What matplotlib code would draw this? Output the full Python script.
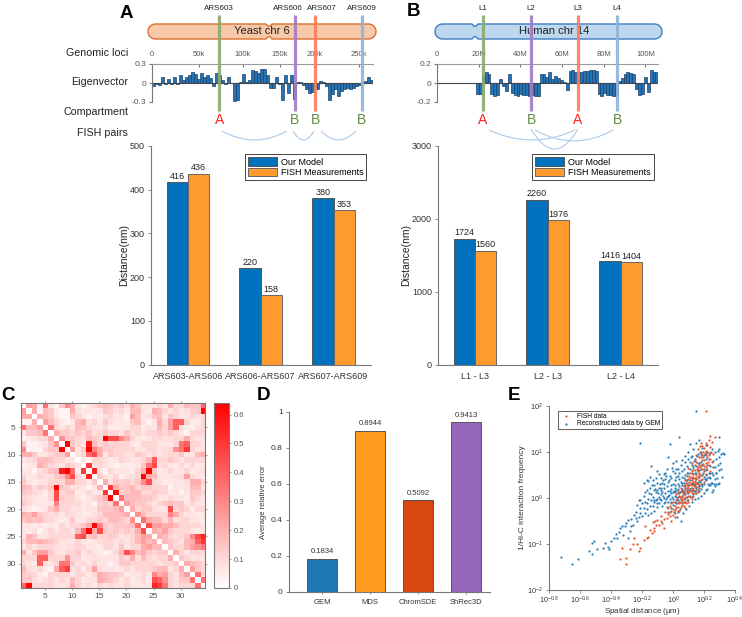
import numpy as np
import matplotlib
matplotlib.use("Agg")
import matplotlib.pyplot as plt
from matplotlib.path import Path
from matplotlib.patches import PathPatch
from matplotlib.colors import LinearSegmentedColormap

plt.rcParams['font.family'] = ['Liberation Sans', 'DejaVu Sans']
plt.rcParams['mathtext.default'] = 'regular'

W, H = 742, 617
GRAY = '#555555'
AXC = '#777777'
BLUE = '#0072bd'
ORANGE = '#ff9a2e'

# eigenvector tracks
yeast_eig = [-.05, -.01, -.03, .10, -.01, .07, -.02, .10, -.01, .12, .04, .09, .12, .17, .15, .06, .16, .10, .12, .08,
             -.04, .16, .13, .05, -.02, .09, 0, -.28, -.27, .01, .14, .01, .05, .20, .19, .16, .22, .22, .12, -.08,
             -.08, .10, -.02, -.27, .13, -.15, .12, -.25, .01, .01, -.03, -.10, -.15, -.14, -.10, -.10, .03, .01,
             -.05, -.27, -.17, -.10, -.20, -.12, -.10, -.08, -.10, -.08, -.05, -.03, .01, .03, .10, .05]
human_eig = [-.12, -.12, .07, .12, .09, -.12, -.14, -.13, .04, -.03, -.08, .09, -.10, -.13, -.14, -.12, -.13, -.13,
             -.14, -.13, -.14, -.14, .10, .09, .06, .12, .04, .07, .05, .03, .01, -.07, .13, .14, .12, .12, .12, .13,
             .13, .14, .14, .13, -.12, -.14, -.11, -.13, -.13, -.14, -.14, .02, .05, .10, .12, .11, .09, -.06, -.13,
             -.12, .06, -.09, .14, .12, .12]
yeast_ticks = [0, 56.6, 109.6, 154, 196, 249]
yeast_ticklabels = ['0', '50k', '100k', '150k', '200k', '250k']
human_ticks = [0, 20, 40, 60, 80, 100]
human_ticklabels = ['0', '20M', '40M', '60M', '80M', '100M']

# distance bars
yeast_pairs = ['ARS603-ARS606', 'ARS606-ARS607', 'ARS607-ARS609']
yeast_model = [416, 220, 380]
yeast_fish = [436, 158, 353]
human_pairs = ['L1 - L3', 'L2 - L3', 'L2 - L4']
human_model = [1724, 2260, 1416]
human_fish = [1560, 1976, 1404]

# panel D
methods = ['GEM', 'MDS', 'ChromSDE', 'ShRec3D']
errors = [0.1834, 0.8944, 0.5092, 0.9413]
method_colors = ['#1f77b4', '#ff9a1f', '#d8470e', '#9467bd']

# panel C, upper triangle read row by row
heat_upper = [
    [35, 30, 5, 40, 10, 5, 20, 42, 30, 10, 5, 10, 15, 20, 25, 20, 15, 20, 12, 30, 20, 10, 10, 10, 15, 10, 30, 15, 15, 25, 20, 20, 38],
    [30, 5, 25, 20, 8, 5, 5, 30, 12, 8, 10, 8, 10, 22, 18, 12, 15, 8, 25, 25, 10, 8, 30, 25, 15, 10, 15, 10, 12, 18, 20, 63],
    [30, 25, 20, 10, 5, 5, 20, 15, 10, 5, 10, 8, 12, 15, 10, 10, 5, 35, 22, 8, 12, 22, 25, 10, 22, 15, 8, 10, 15, 12, 15],
    [35, 25, 15, 8, 5, 10, 25, 30, 12, 15, 10, 20, 12, 8, 10, 8, 20, 25, 10, 5, 10, 30, 15, 35, 40, 40, 15, 8, 8, 15, 10],
    [40, 15, 10, 15, 10, 25, 22, 15, 12, 10, 15, 8, 8, 8, 10, 15, 15, 8, 10, 10, 25, 15, 35, 40, 12, 8, 5, 12, 15, 10],
    [30, 20, 20, 15, 22, 15, 22, 12, 15, 20, 15, 15, 10, 20, 12, 15, 10, 15, 15, 20, 15, 20, 15, 10, 5, 15, 15, 15, 12],
    [40, 20, 20, 15, 12, 25, 20, 15, 40, 20, 45, 45, 30, 15, 10, 8, 10, 15, 15, 12, 12, 15, 15, 30, 15, 10, 10, 8],
    [63, 20, 15, 10, 25, 25, 15, 20, 15, 18, 15, 15, 10, 8, 15, 15, 15, 10, 10, 10, 15, 35, 40, 15, 15, 10, 8],
    [35, 10, 20, 30, 45, 30, 18, 20, 15, 15, 15, 15, 10, 10, 15, 15, 10, 12, 15, 40, 50, 15, 15, 10, 12],
    [10, 15, 10, 45, 30, 10, 20, 15, 15, 10, 12, 20, 15, 10, 15, 10, 12, 15, 15, 20, 10, 10, 25, 30],
    [10, 5, 15, 15, 12, 8, 10, 15, 12, 10, 10, 15, 25, 40, 15, 15, 20, 15, 10, 15, 15, 15, 15],
    [50, 10, 15, 10, 8, 5, 8, 8, 8, 10, 20, 25, 45, 10, 15, 10, 8, 15, 8, 15, 8, 10],
    [55, 10, 5, 15, 10, 10, 10, 8, 15, 30, 35, 20, 8, 10, 15, 10, 10, 15, 8, 10, 12],
    [20, 10, 10, 15, 5, 10, 12, 15, 30, 30, 25, 10, 10, 10, 12, 15, 35, 15, 10, 8],
    [30, 10, 20, 18, 20, 15, 20, 30, 22, 15, 12, 8, 8, 10, 10, 12, 30, 30, 15],
    [50, 20, 20, 22, 25, 15, 20, 20, 15, 15, 15, 5, 10, 10, 10, 25, 25, 10],
    [62, 15, 20, 25, 25, 15, 15, 20, 15, 15, 8, 10, 5, 10, 20, 20, 15],
    [40, 25, 25, 25, 20, 20, 15, 10, 10, 15, 10, 10, 8, 20, 15, 10],
    [35, 25, 20, 20, 15, 10, 15, 20, 25, 20, 20, 10, 15, 10, 10],
    [30, 15, 20, 20, 12, 10, 10, 30, 15, 20, 15, 8, 15, 15],
    [40, 25, 15, 15, 15, 15, 45, 30, 15, 10, 10, 8, 10],
    [40, 30, 25, 25, 15, 25, 12, 15, 15, 10, 10, 8],
    [50, 35, 35, 30, 30, 25, 15, 15, 15, 15, 10],
    [30, 25, 35, 20, 15, 15, 15, 10, 8, 10],
    [30, 25, 15, 12, 15, 20, 15, 15, 48],
    [25, 20, 15, 10, 25, 30, 45, 55],
    [20, 15, 15, 25, 35, 40, 50],
    [30, 15, 10, 15, 15, 15],
    [20, 15, 10, 12, 10],
    [30, 25, 20, 15],
    [35, 20, 15],
    [40, 15],
    [40],
]
hot_row = [1, 11, 12, 12, 13, 15, 16, 16, 7, 7, 7, 8, 8, 9, 10, 13, 13, 13, 20, 2, 23, 24, 24, 25, 25, 25, 26, 26,
           8, 12, 13, 16, 17, 2, 18, 1, 5, 22, 23, 32, 33, 4, 4, 5, 8]
hot_col = [34, 25, 25, 24, 24, 23, 7, 18, 18, 17, 16, 30, 31, 31, 14, 9, 8, 10, 28, 19, 14, 13, 15, 33, 34, 32, 33, 34,
           9, 13, 14, 17, 18, 34, 19, 5, 6, 23, 24, 33, 34, 29, 30, 29, 31]
hot_val = [.38, .40, .45, .35, .30, .30, .45, .20, .45, .45, .20, .35, .40, .50, .45, .45, .40, .30, .45, .10, .42, .35, .30, .45, .55, .30, .40, .50,
           .63, .50, .55, .50, .62, .63, .35, .35, .35, .35, .45, .35, .35, .40, .40, .40, .40]

# panel E, log10 of (distance, 1/frequency)
fish_pts = [(-.34, -1.33), (-.30, -1.30), (-.30, -1.43), (-.33, -1.09), (-.275, -1.12), (-.25, -.87), (-.26, -1.0), (-.23, -1.01),
            (-.22, -1.16), (-.21, -1.09), (-.19, -.91), (-.17, -.87), (-.18, -.62), (-.15, -.69), (-.135, -.76), (-.125, -.65),
            (-.115, -.51), (-.09, -.58), (-.07, -.54), (-.06, -.65), (-.04, -.43), (-.02, -.40), (-.01, -.51), (.215, 1.88),
            (.236, 1.34), (.27, 1.32), (-.13, -.52), (-.10, -.47), (-.08, -.40), (-.05, -.30), (-.03, -.22), (-.06, -.45),
            (-.02, -.18), (-.01, -.28), (0, -.10), (.01, -.33), (.01, -.18), (.02, -.05), (.02, -.22), (.03, .02), (.03, -.28),
            (.04, -.12), (.04, .10), (.05, -.02), (.05, -.20), (.06, .15), (.06, .02), (.06, -.15), (.07, .25), (.07, .08),
            (.07, -.08), (.08, .18), (.08, .02), (.08, -.22), (.09, .32), (.09, .12), (.09, -.05), (.10, .40), (.10, .22),
            (.10, .05), (.10, -.10), (.11, .30), (.11, .15), (.11, .02), (.12, .45), (.12, .28), (.12, .10), (.12, -.02),
            (.13, .52), (.13, .35), (.13, .18), (.13, .05), (.14, .60), (.14, .42), (.14, .25), (.14, .10), (.15, .78),
            (.15, .50), (.15, .32), (.15, .18), (.16, .68), (.16, .45), (.16, .30), (.16, .12), (.17, .88), (.17, .55),
            (.17, .38), (.17, .22), (.18, 1.0), (.18, .72), (.18, .50), (.18, .30), (.19, .92), (.19, .62), (.19, .40),
            (.20, 1.08), (.20, .82), (.20, .58), (.20, .35), (.21, 1.02), (.21, .75), (.21, .52), (.22, 1.15), (.22, .88),
            (.22, .62), (.23, .98), (.23, .72), (.24, 1.1), (.24, .85), (.24, .58), (.25, 1.22), (.25, .78), (.26, .95),
            (.01, -.42), (0, -.25), (-.01, -.12), (-.02, -.30), (.02, .08), (.03, .15), (.04, -.28), (.05, .22), (.06, -.05),
            (.07, -.18), (.08, .28), (.09, .22), (.10, .12), (.11, .42), (.12, .18), (.13, .42), (.14, .32), (.15, .42),
            (.16, .58), (.17, .72), (.18, .88), (.19, 1.12), (.21, .92), (.12, .75), (.14, .82), (.10, .65), (.16, 1.05),
            (.18, 1.18), (.20, .70), (.23, 1.25), (.13, .62), (.15, .92), (.11, .55), (.09, .48), (.08, .38), (.17, .48),
            (-.16, -.85), (-.12, -.72), (-.11, -.60), (-.08, -.50), (-.03, -.35), (0, -.38), (.015, -.26), (.025, -.12),
            (.035, -.20), (.045, .02), (.055, -.10), (.065, .18), (.075, .0), (.085, -.12), (.095, .26), (.105, .34),
            (.115, .22), (.125, .38), (.135, .28), (.145, .36), (.155, .24), (.165, .52), (.175, .66), (.185, .82),
            (.195, 1.0), (.205, .98), (.215, .68), (.225, .78), (.235, .92), (.245, 1.0), (.155, .62), (.145, .72),
            (.125, .58), (.105, .48), (.085, .32), (.065, .08), (.045, -.08), (.175, 1.12), (.195, .74), (.21, 1.2)]
gem_pts = [(-.72, -1.29), (-.65, -1.43), (-.61, -1.33), (-.54, -1.16), (-.52, -1.21), (-.51, -.94), (-.52, -.98), (-.49, -1.11),
           (-.45, -1.08), (-.42, -1.07), (-.41, -1.12), (-.40, -.94), (-.38, -.87), (-.36, -.87), (-.34, -.65), (-.33, -.62),
           (-.29, -.49), (-.29, -.87), (-.26, -.58), (-.25, -.38), (-.23, -.51), (-.22, -.42), (-.21, 1.19), (-.21, -.33),
           (-.19, -.23), (-.18, -.33), (-.17, .16), (-.17, .39), (-.16, .36), (-.14, .69), (-.13, .39), (-.10, .59), (-.09, .52),
           (-.06, .52), (-.03, .88), (-.02, 1.17), (.04, 1.32), (.11, 1.17), (.15, 1.88), (.30, 1.33), (.32, .98),
           (-.35, -.75), (-.31, -.62), (-.28, -.72), (-.27, -.45), (-.24, -.30), (-.20, -.12), (-.20, -.40), (-.19, .05),
           (-.18, -.08), (-.17, -.25), (-.16, -.02), (-.16, -.38), (-.15, .22), (-.15, -.18), (-.14, .08), (-.14, -.32),
           (-.13, .02), (-.13, -.18), (-.12, .28), (-.12, -.10), (-.12, -.28), (-.11, .12), (-.11, -.05), (-.10, .32),
           (-.10, -.02), (-.10, -.20), (-.09, .22), (-.09, .02), (-.09, -.12), (-.08, .42), (-.08, .08), (-.08, -.05),
           (-.07, .32), (-.07, .12), (-.07, -.18), (-.06, .22), (-.06, 0), (-.06, -.12), (-.05, .40), (-.05, .10), (-.05, -.08),
           (-.04, .62), (-.04, .25), (-.04, .02), (-.04, -.20), (-.03, .35), (-.03, .05), (-.03, -.10), (-.02, .48), (-.02, .15),
           (-.02, -.02), (-.01, .28), (-.01, .10), (-.01, -.08), (0, .58), (0, .30), (0, .12), (0, -.02), (0, -.15), (.01, .38),
           (.01, .22), (.01, .05), (.01, -.10), (.02, .80), (.02, .45), (.02, .18), (.02, .02), (.02, -.12), (.03, .30), (.03, .10),
           (.03, -.05), (.03, -.30), (.04, .55), (.04, .25), (.04, .05), (.04, -.08), (.05, .72), (.05, .35), (.05, .15), (.05, -.02),
           (.05, -.50), (.06, .45), (.06, .20), (.06, .05), (.06, -.12), (.07, .62), (.07, .32), (.07, .12), (.07, -.02), (.08, .90),
           (.08, .50), (.08, .25), (.08, .08), (.08, -.10), (.09, .70), (.09, .38), (.09, .18), (.09, .02), (.10, 1.0), (.10, .55),
           (.10, .28), (.10, .10), (.10, -.05), (.11, .78), (.11, .38), (.11, .20), (.11, .05), (.12, .90), (.12, .55), (.12, .32),
           (.12, .15), (.12, .02), (.13, 1.05), (.13, .68), (.13, .42), (.13, .22), (.13, .08), (.14, .85), (.14, .55), (.14, .30),
           (.14, .15), (.14, -.02), (.15, 1.18), (.15, .70), (.15, .40), (.15, .22), (.15, .10), (.16, .95), (.16, .60), (.16, .35),
           (.16, .18), (.17, 1.25), (.17, .75), (.17, .45), (.17, .28), (.17, .15), (.18, .95), (.18, .62), (.18, .38), (.18, .20),
           (.19, 1.08), (.19, .72), (.19, .50), (.19, .25), (.20, .92), (.20, .62), (.20, .30), (.21, 1.15), (.21, .60), (.21, .38),
           (.21, .18), (.22, 1.00), (.22, .72), (.22, .42), (.23, .85), (.23, .55), (.23, .28), (.24, .98), (.24, .70), (.24, .42),
           (.25, 1.05), (.25, .55), (.25, .32), (.26, .80), (.26, .50), (.26, .18), (.27, 1.0), (.27, .68), (.27, .40), (.28, .85),
           (.28, .55), (.28, .30), (.29, 1.02), (.29, .72), (.30, .88), (.30, .32), (.31, .95), (.31, .62), (.33, .95), (.30, 1.05),
           (-.23, -.15), (-.22, -.05), (-.21, -.22), (-.19, .32), (-.15, .45), (-.11, .42), (-.08, .18), (-.05, .55), (0, .75),
           (.03, .62), (.06, .82), (.09, .55), (.12, .72), (.15, .55), (.18, .78), (.21, .85), (.24, .55), (.02, .62), (.07, .42),
           (.11, .62), (.16, .75), (.20, .45), (.04, .40), (-.01, .42), (.13, .30), (.17, .60), (.09, .12), (.06, .32), (.01, .12),
           (-.44, -.98), (-.37, -.78), (-.32, -.80), (-.30, -.55), (-.27, -.62), (-.24, -.44), (-.21, -.05), (-.18, .12),
           (-.165, -.12), (-.155, .10), (-.145, -.05), (-.135, .28), (-.125, -.05), (-.115, .20), (-.105, -.12), (-.095, .10),
           (-.085, -.02), (-.075, .22), (-.065, .05), (-.055, .30), (-.045, -.02), (-.035, .15), (-.025, .06), (-.015, .20),
           (-.005, .02), (.005, .15), (.015, .28), (.025, -.02), (.035, .20), (.045, .12), (.055, .28), (.065, .12), (.075, .22),
           (.085, .38), (.095, .28), (.105, .18), (.115, .30), (.125, .45), (.135, .15), (.145, .25), (.155, .32), (.165, .25),
           (.175, .35), (.185, .30), (.195, .55), (.205, .40), (.215, .50), (.225, .30), (.235, .45), (.245, .32), (.255, .68),
           (.265, .30), (.275, .55), (.285, .42), (.295, .60), (.305, .75), (.315, .45), (.135, .80), (.155, .90), (.175, 1.0),
           (.195, .88), (.215, .95), (.115, .88), (.095, .85), (.075, .78), (.055, .58), (.035, .48), (.015, .55), (-.005, .65),
           (-.025, .38), (-.045, .48), (-.065, .38), (-.085, .30), (-.105, .18), (-.125, .16), (.125, -.08), (.105, -.18),
           (.085, -.25), (.065, -.32), (.045, -.25), (.025, -.42), (.005, -.30), (-.015, -.22), (-.035, -.30), (.20, .10),
           (.18, .05), (.16, 0), (.24, .28), (.27, .25), (.29, .30), (.22, .20), (.25, .12)]


def px_axes(x0, y0, x1, y1):
    return fig.add_axes([x0 / W, 1 - y1 / H, (x1 - x0) / W, (y1 - y0) / H])


def style(ax, size=6.5):
    for s in ['top', 'right']:
        ax.spines[s].set_visible(False)
    for s in ['left', 'bottom']:
        ax.spines[s].set_color(AXC)
        ax.spines[s].set_linewidth(0.8)
    ax.tick_params(colors=AXC, labelcolor='#333333', labelsize=size, width=0.6, length=2.5, pad=2)


def eig_track(x0, x1, xlim, start, binw, values, ylim, yt, ytl, ticks, labels):
    ax = px_axes(x0, 64, x1, 102)
    pos = start + binw * (np.arange(len(values)) + 0.5)
    ax.bar(pos, values, width=binw, color='#2474b5', edgecolor='#1d3f68', linewidth=0.5)
    ax.axhline(0, color='#444444', lw=0.8)
    ax.set_xlim(0, xlim)
    ax.set_ylim(-ylim, ylim)
    for s in ['right', 'bottom']:
        ax.spines[s].set_visible(False)
    ax.spines['top'].set_color('#999999')
    ax.spines['left'].set_color(AXC)
    ax.xaxis.tick_top()
    ax.set_xticks(ticks)
    ax.set_xticklabels(labels)
    ax.set_yticks(yt)
    ax.set_yticklabels(ytl)
    ax.tick_params(axis='x', direction='in', length=2, labelsize=5.5, labelcolor=GRAY, color=AXC, pad=4)
    ax.tick_params(axis='y', direction='out', length=2, labelsize=6, labelcolor=GRAY, color=AXC, pad=2)
    ax.patch.set_alpha(0)
    return ax


def dist_bars(x0, x1, pairs, model, fish, ymax, yt, legend_box):
    ax = px_axes(x0, 145.7, x1, 364.7)
    x = np.arange(1, 4)
    b1 = ax.bar(x - 0.145, model, 0.29, color=BLUE, edgecolor='#555555', linewidth=0.7, label='Our Model')
    b2 = ax.bar(x + 0.145, fish, 0.29, color=ORANGE, edgecolor='#666666', linewidth=0.7, label='FISH Measurements')
    for bars in (b1, b2):
        for r in bars:
            ax.text(r.get_x() + r.get_width() / 2, r.get_height() + ymax * 0.007, str(int(r.get_height())),
                    ha='center', va='bottom', fontsize=6.5, color='#222222')
    ax.set_xlim(0.5, 3.51)
    ax.set_ylim(0, ymax)
    ax.set_xticks(x)
    ax.set_xticklabels(pairs)
    ax.set_yticks(yt)
    style(ax)
    ax.tick_params(axis='x', length=0, pad=5)
    ax.set_ylabel('Distance(nm)', fontsize=7.5, color='#222222', labelpad=1)
    lx, ly = legend_box
    leg = ax.legend(loc='upper left', bbox_to_anchor=(lx / W, 1 - ly / H), bbox_transform=fig.transFigure,
                    fontsize=6.5, fancybox=False, framealpha=1, edgecolor='#444444', borderaxespad=0,
                    handlelength=3.2, handleheight=1.0, handletextpad=0.4, labelspacing=0.15, borderpad=0.35)
    leg.get_frame().set_linewidth(0.7)
    return ax


fig = plt.figure(figsize=(W / 100, H / 100), dpi=100)

# eigenvector tracks and distance bars
eig_track(152, 373, 266, 0, 3.6, yeast_eig, 0.3, [-.3, 0, .3], ['-0.3', '0', '0.3'], yeast_ticks, yeast_ticklabels)
eig_track(437, 658, 106, 18.7, 1.388, human_eig, 0.2, [-.2, 0, .2], ['-0.2', '0', '0.2'], human_ticks, human_ticklabels)
dist_bars(151.3, 370.7, yeast_pairs, yeast_model, yeast_fish, 500, [0, 100, 200, 300, 400, 500], (245, 154.3))
dist_bars(438.3, 657.7, human_pairs, human_model, human_fish, 3000, [0, 1000, 2000, 3000], (532.3, 154.3))

# panel C
heat = np.zeros((34, 34))
for i, row in enumerate(heat_upper):
    vals = np.array(row[:33 - i]) / 145
    heat[i, i + 1:i + 1 + len(vals)] = vals
for r, c, v in zip(hot_row, hot_col, hot_val):
    heat[r - 1, c - 1] = v
heat = heat + heat.T
axc = px_axes(20.7, 403, 205, 588)
cmap = LinearSegmentedColormap.from_list('wr', ['#ffffff', '#ff0000'])
im = axc.imshow(heat, cmap=cmap, vmin=0, vmax=0.64, extent=(0.5, 34.5, 34.5, 0.5), aspect='auto', interpolation='nearest')
axc.set_xticks(range(5, 31, 5))
axc.set_yticks(range(5, 31, 5))
axc.tick_params(colors=AXC, labelcolor=GRAY, labelsize=6, length=1.5, width=0.5, pad=2, top=True, right=True)
for s in axc.spines.values():
    s.set_color(AXC)
    s.set_linewidth(0.8)
cax = px_axes(214, 403, 229, 588)
cb = fig.colorbar(im, cax=cax)
cb.set_ticks([0, .1, .2, .3, .4, .5, .6])
cb.set_ticklabels(['0', '0.1', '0.2', '0.3', '0.4', '0.5', '0.6'])
cb.ax.tick_params(colors=AXC, labelcolor=GRAY, labelsize=5.5, length=1.5, width=0.5, pad=2)
cb.outline.set_edgecolor(AXC)
cb.outline.set_linewidth(0.8)

# panel D
axd = px_axes(289, 411.7, 490, 591.7)
xd = np.arange(1, 5)
bd = axd.bar(xd, errors, 0.61, color=method_colors, edgecolor='#555555', linewidth=0.7)
for r, e in zip(bd, errors):
    axd.text(r.get_x() + r.get_width() / 2, e + 0.018, '%.4f' % e, ha='center', va='bottom', fontsize=5.5, color='#333333')
axd.set_xlim(0.31, 4.5)
axd.set_ylim(0, 1)
axd.set_xticks(xd)
axd.set_xticklabels(methods)
axd.set_yticks([0, .2, .4, .6, .8, 1])
axd.set_yticklabels(['0', '0.2', '0.4', '0.6', '0.8', '1'])
style(axd, 5.5)
axd.tick_params(axis='x', length=1.5, pad=4)
axd.tick_params(axis='y', labelsize=6)
axd.set_ylabel('Average relative error', fontsize=5.5, color='#333333', labelpad=3)

# panel E
axe = px_axes(549, 405.7, 735, 590)
gem = np.array(gem_pts)
fish = np.array(fish_pts)
axe.scatter(10 ** gem[:, 0], 10 ** gem[:, 1], s=2.6, color='#2c7fb8', linewidths=0, label='Reconstructed data by GEM', zorder=2)
axe.scatter(10 ** fish[:, 0], 10 ** fish[:, 1], s=2.6, color='#e2562a', linewidths=0, label='FISH data', zorder=3)
axe.set_xscale('log')
axe.set_yscale('log')
axe.set_xlim(10 ** -0.8, 10 ** 0.4)
axe.set_ylim(1e-2, 1e2)
xexp = [-0.8, -0.6, -0.4, -0.2, 0, 0.2, 0.4]
yexp = [-2, -1, 0, 1, 2]
axe.set_xticks([10.0 ** e for e in xexp])
axe.set_xticklabels(['$10^{%g}$' % e for e in xexp])
axe.set_yticks([10.0 ** e for e in yexp])
axe.set_yticklabels(['$10^{%g}$' % e for e in yexp])
axe.minorticks_off()
style(axe, 5.2)
axe.tick_params(axis='x', pad=1)
axe.set_xlabel(r'Spatial distance ($\mu$m)', fontsize=5.8, color='#333333')
axe.xaxis.label.set_va('center')
axe.xaxis.set_label_coords(0.5, -0.118)
axe.set_ylabel('1/Hi-C interaction frequency', fontsize=6, color='#333333', labelpad=1)
handles, labels = axe.get_legend_handles_labels()
leg = axe.legend(handles[::-1], labels[::-1], loc='upper left', bbox_to_anchor=(558 / W, 1 - 411 / H),
                 bbox_transform=fig.transFigure, fontsize=4.8, fancybox=False, framealpha=1, edgecolor='#444444',
                 borderaxespad=0, handletextpad=0.6, labelspacing=0.1, borderpad=0.25, markerscale=1.0)
leg.get_frame().set_linewidth(0.6)

# annotation layer in pixel coordinates
ov = fig.add_axes([0, 0, 1, 1], zorder=10)
ov.set_xlim(0, W)
ov.set_ylim(H, 0)
ov.axis('off')


def chromosome(x0, x1, xn, fc, ec):
    y0, y1 = 24, 39
    r = (y1 - y0) / 2
    t = np.linspace(-np.pi / 2, np.pi / 2, 20)
    right = list(zip(x1 - r + r * np.cos(t), 31.5 + r * np.sin(t)))
    left = list(zip(x0 + r - r * np.cos(t[::-1]), 31.5 + r * np.sin(t[::-1])))
    notch_b = [(xn + 3, y1), (xn + 1, y1 - 2.2), (xn - 1, y1 - 2.2), (xn - 3, y1)]
    notch_t = [(xn - 3, y0), (xn - 1, y0 + 2.2), (xn + 1, y0 + 2.2), (xn + 3, y0)]
    poly = right + notch_b + left + notch_t
    ov.fill(*zip(*poly), facecolor=fc, edgecolor=ec, linewidth=1.0, zorder=1)


def arc(x0, x1, y, bottom):
    path = Path([(x0, y), ((x0 + x1) / 2, 2 * bottom - y), (x1, y)], [Path.MOVETO, Path.CURVE3, Path.CURVE3])
    ov.add_patch(PathPatch(path, facecolor='none', edgecolor='#a9cbe9', linewidth=0.8))


chromosome(148, 376, 269, '#f8c9a9', '#d9702f')
chromosome(435, 662, 475, '#bdd7ee', '#3f7cc4')
ov.text(262, 31.5, 'Yeast chr 6', ha='center', va='center', fontsize=8, color='#222222')
ov.text(554, 31.5, 'Human chr 14', ha='center', va='center', fontsize=8, color='#222222')

locus_x = [219.3, 294.7, 315, 362, 483, 531, 578, 617]
locus_color = ['#8aab6e', '#a37cc8', '#ff7c5c', '#8fb4dc', '#8aab6e', '#a37cc8', '#ff7c5c', '#8fb4dc']
locus_name = ['ARS603', 'ARS606', 'ARS607', 'ARS609', 'L1', 'L2', 'L3', 'L4']
name_x = [219, 288, 322, 362, 483, 531, 578, 617]
comp_name = ['A', 'B', 'B', 'B', 'A', 'B', 'A', 'B']
for lx, lc, ln, nx, cn in zip(locus_x, locus_color, locus_name, name_x, comp_name):
    ov.plot([lx, lx], [15, 111], color=lc, lw=2.3, alpha=0.92, solid_capstyle='butt', zorder=3)
    ov.text(nx, 8, ln, ha='center', va='center', fontsize=5.8, color='#222222')
    ov.text(lx, 120, cn, ha='center', va='center', fontsize=10, color='#ff2020' if cn == 'A' else '#5f8f3e')

for txt, yy in zip(['Genomic loci', 'Eigenvector', 'Compartment', 'FISH pairs'], [53, 82, 112, 133]):
    ov.text(128, yy, txt, ha='right', va='center', fontsize=7.7, color='#222222')

arc(222, 287, 131, 140)
arc(293, 314, 131, 140)
arc(321, 356, 131, 140)
arc(489, 575, 130, 140)
arc(531, 578, 129, 149)
arc(535, 613, 130, 141)

for txt, xx, yy in zip('ABCDE', [126, 414, 8, 264, 514], [13, 12, 396, 396, 396]):
    ov.text(xx, yy, txt, ha='center', va='center', fontsize=13.5, fontweight='bold', color='black')

fig.savefig('out.png', dpi=100)
